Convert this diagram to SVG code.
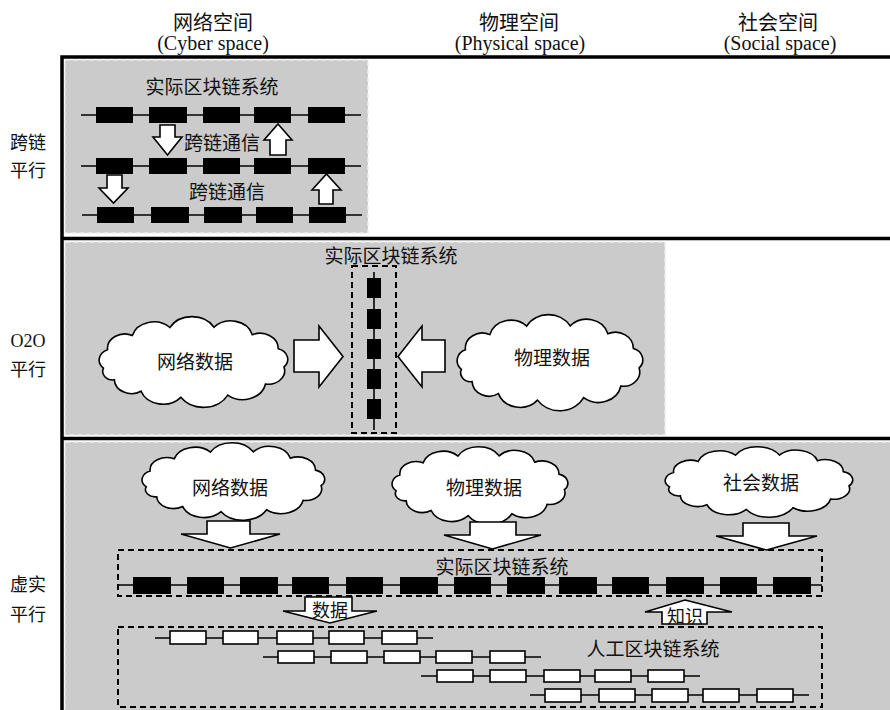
<svg xmlns="http://www.w3.org/2000/svg" xmlns:xlink="http://www.w3.org/1999/xlink" width="890" height="710" viewBox="0 0 890 710">
<style>
.t{font-family:"Liberation Serif","Noto Sans CJK SC",serif;fill:#111;text-anchor:middle}
.h{font-size:20px}
.m{font-size:19px}
.s{font-size:18px}
.panel{fill:#cbcbcb;stroke:#ececec;stroke-width:1.5;stroke-dasharray:5 3}
.frame{stroke:#000;stroke-width:3.5;fill:none}
.chain{stroke:#000;stroke-width:1.6;fill:none}
.bk{fill:#000}
.wb{fill:#fff;stroke:#000;stroke-width:1.6}
.arr{fill:#fff;stroke:#000;stroke-width:1.6;stroke-linejoin:miter}
.dbox{fill:none;stroke:#000;stroke-width:2;stroke-dasharray:6 4}
.cloud{fill:#fff;stroke:#000;stroke-width:1.6}
</style>
<defs>
<path id="cloudp" vector-effect="non-scaling-stroke" d="M11.4,57.3 A13,13 0 0 1 15.4,35.6 A17,17 0 0 1 39.8,18.8 A22,22 0 0 1 76.7,9.4 A25,25 0 0 1 120.2,9.1 A22,22 0 0 1 157.9,17.8 A18,18 0 0 1 183.4,34.3 A13,13 0 0 1 189.1,55.8 A16,16 0 0 1 170.9,75.9 A23,23 0 0 1 133.7,88.9 A27,27 0 0 1 87.5,91.6 A23,23 0 0 1 48.4,84.4 A17,17 0 0 1 22.1,71 A10,10 0 0 1 11.4,57.3 Z"/>
</defs>
<rect width="890" height="710" fill="#fff"/>

<!-- headers -->
<g id="headers">
<text class="t h" x="213" y="30">网络空间</text>
<text class="t h" x="213" y="50">(Cyber space)</text>
<text class="t h" x="519" y="30">物理空间</text>
<text class="t h" x="520" y="50">(Physical space)</text>
<text class="t h" x="778" y="30">社会空间</text>
<text class="t h" x="780" y="50">(Social space)</text>
</g>
<g id="rowlabels">
<text class="t s" x="28" y="149">跨链</text>
<text class="t s" x="28" y="177">平行</text>
<text class="t s" x="28" y="347">O2O</text>
<text class="t s" x="28" y="376">平行</text>
<text class="t s" x="28" y="591">虚实</text>
<text class="t s" x="28" y="621">平行</text>
</g>

<!-- panels -->
<rect class="panel" x="65" y="60" width="303" height="173"/>
<rect class="panel" x="65" y="242" width="600" height="193"/>
<rect class="panel" x="65" y="442" width="830" height="275"/>

<!-- frame -->
<g id="frame">
<path class="frame" d="M62,710 V57 H890 M62,238.5 H890 M62,438.5 H890"/>
</g>

<!-- section 1 -->
<g id="s1-title"><text class="t m" x="212" y="94">实际区块链系统</text></g>
<g id="s1-chain1">
<line class="chain" x1="81" y1="115" x2="361" y2="115"/>
<rect class="bk" x="96" y="107" width="37" height="16"/>
<rect class="bk" x="149" y="107" width="38" height="16"/>
<rect class="bk" x="203" y="107" width="37" height="16"/>
<rect class="bk" x="254" y="107" width="37" height="16"/>
<rect class="bk" x="308" y="107" width="37" height="16"/>
</g>
<g id="s1-chain2">
<line class="chain" x1="81" y1="166" x2="361" y2="166"/>
<rect class="bk" x="96" y="158" width="37" height="16"/>
<rect class="bk" x="149" y="158" width="38" height="16"/>
<rect class="bk" x="203" y="158" width="37" height="16"/>
<rect class="bk" x="254" y="158" width="37" height="16"/>
<rect class="bk" x="308" y="158" width="37" height="16"/>
</g>
<g id="s1-chain3">
<line class="chain" x1="82" y1="215" x2="362" y2="215"/>
<rect class="bk" x="97" y="207" width="37" height="16"/>
<rect class="bk" x="151" y="207" width="38" height="16"/>
<rect class="bk" x="204" y="207" width="38" height="16"/>
<rect class="bk" x="256" y="207" width="37" height="16"/>
<rect class="bk" x="309" y="207" width="37" height="16"/>
</g>
<g id="s1-labels">
<text class="t m" x="222" y="150">跨链通信</text>
<text class="t m" x="227" y="199">跨链通信</text>
</g>

<!-- section 2 -->
<g id="s2-title"><text class="t m" x="391" y="263">实际区块链系统</text></g>
<g id="s2-chain">
<rect class="dbox" x="352" y="266" width="44" height="167"/>
<line class="chain" x1="374" y1="272" x2="374" y2="430"/>
<rect class="bk" x="367" y="278" width="14" height="20"/>
<rect class="bk" x="367" y="309" width="14" height="20"/>
<rect class="bk" x="367" y="339" width="14" height="20"/>
<rect class="bk" x="367" y="369" width="14" height="20"/>
<rect class="bk" x="367" y="399" width="14" height="20"/>
</g>
<g id="s2-cyber">
<use xlink:href="#cloudp" class="cloud" transform="translate(91.9,319.5) scale(1.016,0.85)"/>
<text class="t m" x="195" y="369">网络数据</text>
</g>
<g id="s2-physical">
<use xlink:href="#cloudp" class="cloud" transform="translate(450,317.7) scale(1.0,0.9)"/>
<text class="t m" x="552" y="365">物理数据</text>
</g>

<!-- section 3 -->
<g id="s3-cyber">
<use xlink:href="#cloudp" class="cloud" transform="translate(135,445.2) scale(0.984,0.726)"/>
<text class="t m" x="230" y="495">网络数据</text>
</g>
<g id="s3-physical">
<use xlink:href="#cloudp" class="cloud" transform="translate(385.3,449.2) scale(0.947,0.726)"/>
<text class="t m" x="484" y="495">物理数据</text>
</g>
<g id="s3-social">
<use xlink:href="#cloudp" class="cloud" transform="translate(658,449) scale(1.01,0.66)"/>
<text class="t m" x="761" y="490">社会数据</text>
</g>
<g id="s3-real">
<rect class="dbox" x="118" y="550" width="704" height="46"/>
<text class="t m" x="502" y="574">实际区块链系统</text>
<line class="chain" x1="119" y1="585" x2="822" y2="585"/>
<rect class="bk" x="133" y="577" width="38" height="17"/>
<rect class="bk" x="187" y="577" width="37" height="17"/>
<rect class="bk" x="240" y="577" width="38" height="17"/>
<rect class="bk" x="292" y="577" width="37" height="17"/>
<rect class="bk" x="346" y="577" width="37" height="17"/>
<rect class="bk" x="400" y="577" width="38" height="17"/>
<rect class="bk" x="454" y="577" width="37" height="17"/>
<rect class="bk" x="507" y="577" width="38" height="17"/>
<rect class="bk" x="559" y="577" width="38" height="17"/>
<rect class="bk" x="612" y="577" width="37" height="17"/>
<rect class="bk" x="666" y="577" width="38" height="17"/>
<rect class="bk" x="720" y="577" width="37" height="17"/>
<rect class="bk" x="773" y="577" width="38" height="17"/>
</g>
<g id="s3-artificial">
<rect class="dbox" x="118" y="627" width="704" height="80"/>
<text class="t m" x="653" y="656">人工区块链系统</text>
<line class="chain" x1="155" y1="638" x2="433" y2="638"/>
<rect class="wb" x="170" y="631" width="36" height="13"/>
<rect class="wb" x="223" y="631" width="35" height="13"/>
<rect class="wb" x="277" y="631" width="36" height="13"/>
<rect class="wb" x="329" y="631" width="35" height="13"/>
<rect class="wb" x="382" y="631" width="35" height="13"/>
<line class="chain" x1="263" y1="657" x2="541" y2="657"/>
<rect class="wb" x="278" y="651" width="36" height="12"/>
<rect class="wb" x="331" y="651" width="36" height="12"/>
<rect class="wb" x="384" y="651" width="36" height="12"/>
<rect class="wb" x="436" y="651" width="36" height="12"/>
<rect class="wb" x="490" y="651" width="35" height="12"/>
<line class="chain" x1="421" y1="676" x2="700" y2="676"/>
<rect class="wb" x="437" y="670" width="36" height="12"/>
<rect class="wb" x="490" y="670" width="36" height="12"/>
<rect class="wb" x="544" y="670" width="36" height="12"/>
<rect class="wb" x="595" y="670" width="36" height="12"/>
<rect class="wb" x="648" y="670" width="36" height="12"/>
<line class="chain" x1="530" y1="695" x2="809" y2="695"/>
<rect class="wb" x="545" y="689" width="36" height="13"/>
<rect class="wb" x="599" y="689" width="36" height="13"/>
<rect class="wb" x="652" y="689" width="36" height="13"/>
<rect class="wb" x="703" y="689" width="36" height="13"/>
<rect class="wb" x="757" y="689" width="36" height="13"/>
</g>

<!-- connectors -->
<g id="connectors">
<polygon class="arr" points="160,125 175,125 175,137 182,137 167.5,155 153,137 160,137"/>
<polygon class="arr" points="278,124 292,140 286,140 286,155 270,155 270,140 264,140"/>
<polygon class="arr" points="107,175 122,175 122,188 128,188 113.5,203 99,188 107,188"/>
<polygon class="arr" points="326.5,174 341,190 333,190 333,204 319,204 319,190 312,190"/>
<polygon class="arr" points="294,340 319,340 319,326 343,356.5 319,387 319,372 294,372"/>
<polygon class="arr" points="445,340 422,340 422,326 398,356.5 422,387 422,372 445,372"/>
<polygon class="arr" points="207,521 250,521 250,534 280,534 230.5,548 181,534 207,534"/>
<polygon class="arr" points="470,522 516,522 516,535 541,535 492.5,549 444,535 470,535"/>
<polygon class="arr" points="743,523 789,523 789,536 817,536 766.5,550 716,536 743,536"/>
<polygon class="arr" points="305,597 352,597 352,611 377,611 330,623 283,611 305,611"/>
<polygon class="arr" points="685,600 732,612 707,612 707,624 662,624 662,612 645,612"/>
<text class="t s" x="330" y="617">数据</text>
<text class="t s" x="685" y="623">知识</text>
</g>
</svg>
